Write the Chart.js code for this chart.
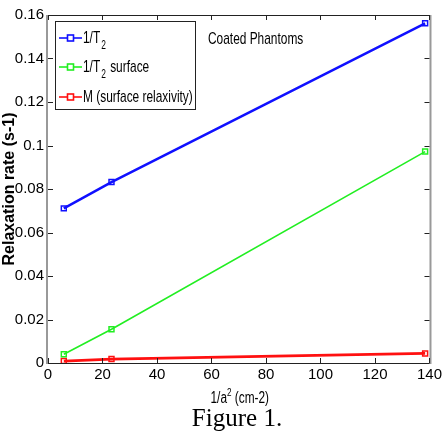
<!DOCTYPE html>
<html><head><meta charset="utf-8">
<script src="https://cdn.jsdelivr.net/npm/chart.js@4/dist/chart.umd.min.js"></script>
<style>html,body{margin:0;padding:0;background:#fff}#wrap{width:445px;height:435px}</style>
</head><body><div id="wrap"><canvas id="c" width="445" height="435"></canvas></div>
<script>
const xValues = [5.8, 23.3, 138.4];
const invT2 = [0.0711, 0.0832, 0.1562];
const invT2Surface = [0.0040, 0.0155, 0.0972];
const surfaceRelaxivity = [0.0009, 0.0018, 0.0044];
const seriesLabels = ['1/T2', '1/T2 surface', 'M (surface relaxivity)'];
const yTicks = [0, 0.02, 0.04, 0.06, 0.08, 0.1, 0.12, 0.14, 0.16];
const xTicks = [0, 20, 40, 60, 80, 100, 120, 140];
const xTitle = '1/a² (cm-2)';
const yTitle = 'Relaxation rate (s-1)';
const note = 'Coated Phantoms';
const caption = 'Figure 1.';

const FONT = "'Liberation Sans', Arial, sans-serif";
const colors = ['#1010ff', '#22ee22', '#ff1010'];
const widths = [2.5, 1.6, 2.8];

function pts(ys){ return xValues.map((x,i)=>({x:x,y:ys[i]})); }

function narrowText(ctx, text, x, y, sx){
  ctx.save(); ctx.translate(x, y); ctx.scale(sx, 1); ctx.fillText(text, 0, 0); ctx.restore();
  return ctx.measureText(text).width * sx;
}

const decor = {
  id:'decor',
  afterDraw(chart){
    const ctx = chart.ctx, a = chart.chartArea;
    const xs = chart.scales.x, ys = chart.scales.y;
    ctx.save();
    // box
    ctx.strokeStyle = '#222'; ctx.lineWidth = 1;
    ctx.beginPath();
    ctx.moveTo(a.left, a.top+0.5); ctx.lineTo(a.right, a.top+0.5);
    ctx.moveTo(a.left, a.bottom+0.5); ctx.lineTo(a.right, a.bottom+0.5);
    ctx.stroke();
    ctx.strokeStyle = '#999'; ctx.lineWidth = 2;
    ctx.beginPath();
    ctx.moveTo(a.left-1, a.top); ctx.lineTo(a.left-1, a.bottom+1);
    ctx.moveTo(a.right+1, a.top); ctx.lineTo(a.right+1, a.bottom+1);
    ctx.stroke();
    // inward ticks
    ctx.strokeStyle = '#222'; ctx.lineWidth = 1;
    ctx.beginPath();
    xTicks.forEach(v=>{ const p = Math.round(xs.getPixelForValue(v))+0.5;
      ctx.moveTo(p, a.bottom); ctx.lineTo(p, a.bottom-5);
      ctx.moveTo(p, a.top); ctx.lineTo(p, a.top+5); });
    yTicks.forEach(v=>{ const p = Math.round(ys.getPixelForValue(v))+0.5;
      ctx.moveTo(a.left, p); ctx.lineTo(a.left+5, p);
      ctx.moveTo(a.right, p); ctx.lineTo(a.right-5, p); });
    ctx.stroke();
    // legend box
    const lx = 55, ly = 21, lw = 140, lh = 88;
    ctx.fillStyle = '#fff'; ctx.fillRect(lx, ly, lw, lh);
    ctx.strokeStyle = '#222'; ctx.lineWidth = 1;
    ctx.strokeRect(lx+0.5, ly+0.5, lw, lh);
    const rowsY = [38, 67, 97];
    const SX = 0.7, FS = '17px ';
    chart.data.datasets.forEach((ds,i)=>{
      const y = rowsY[i];
      ctx.strokeStyle = ds.borderColor; ctx.lineWidth = 1.6;
      ctx.beginPath(); ctx.moveTo(59, y); ctx.lineTo(82, y); ctx.stroke();
      ctx.fillStyle = '#fff';
      ctx.fillRect(67, y-3.5, 7, 7);
      ctx.strokeRect(67.5, y-3, 6, 6);
      ctx.fillStyle = '#000'; ctx.textBaseline = 'middle'; ctx.textAlign = 'left';
      ctx.font = FS + FONT;
      const label = ds.label;
      if (label.startsWith('1/T2')) {
        let x = 83;
        x += narrowText(ctx, '1/T', x, y, SX);
        ctx.font = '12px ' + FONT;
        x += narrowText(ctx, '2', x + 1, y + 8, SX) + 2;
        ctx.font = FS + FONT;
        narrowText(ctx, label.slice(4), x, y, SX);
      } else {
        narrowText(ctx, label, 83, y, SX);
      }
    });
    // annotation
    ctx.fillStyle = '#000'; ctx.font = FS + FONT; ctx.textAlign='left'; ctx.textBaseline='middle';
    narrowText(ctx, note, 208, 39, SX);
    // x title with superscript
    const XS = 0.74;
    const parts = xTitle.split('²');
    ctx.font = '16px ' + FONT;
    const w1 = ctx.measureText(parts[0]).width*XS;
    const w3 = ctx.measureText(parts[1]).width*XS;
    ctx.font = '11px ' + FONT;
    const w2 = ctx.measureText('2').width*XS;
    let tx = (a.left + a.right)/2 - (w1+w2+w3)/2 + 1;
    ctx.font = '16px ' + FONT;
    tx += narrowText(ctx, parts[0], tx, 399, XS);
    ctx.font = '11px ' + FONT;
    tx += narrowText(ctx, '2', tx, 393, XS);
    ctx.font = '16px ' + FONT;
    narrowText(ctx, parts[1], tx, 399, XS);
    // caption
    ctx.font = "25px 'Liberation Serif', 'Times New Roman', serif"; ctx.textAlign='center';
    ctx.fillText(caption, 237, 419);
    ctx.restore();
  }
};

new Chart(document.getElementById('c'), {
  type:'line',
  data:{ datasets:[
    {label:seriesLabels[0], data:pts(invT2)},
    {label:seriesLabels[1], data:pts(invT2Surface)},
    {label:seriesLabels[2], data:pts(surfaceRelaxivity)}
  ].map((d,i)=>Object.assign(d,{borderColor:colors[i], borderWidth:widths[i], pointStyle:'rect',
      pointRadius:3.5, pointBorderWidth:1.5, pointBorderColor:colors[i], pointBackgroundColor:'rgba(255,255,255,0)',
      tension:0, fill:false})) },
  options:{
    responsive:false, animation:false, devicePixelRatio:1,
    layout:{padding:{left:0, top:15, right:10, bottom:27}},
    plugins:{legend:{display:false}, tooltip:{enabled:false}},
    scales:{
      x:{type:'linear', min:0, max:140,
        afterBuildTicks(s){ s.ticks = xTicks.map(v=>({value:v})); },
        afterFit(s){ s.height = 45; },
        grid:{display:false, drawTicks:false}, border:{display:false},
        ticks:{color:'#000', font:{family:FONT, size:15}, padding:3, maxRotation:0},
        title:{display:false}
      },
      y:{type:'linear', min:0, max:0.16,
        afterBuildTicks(s){ s.ticks = yTicks.map(v=>({value:v})); },
        afterFit(s){ s.width = 48; },
        grid:{display:false, drawTicks:false}, border:{display:false},
        ticks:{color:'#000', font:{family:FONT, size:15}, padding:4, callback:v=>String(v)},
        title:{display:true, text:yTitle, color:'#000', font:{family:FONT, size:16, weight:'bold'}, padding:{top:0,bottom:1}}
      }
    }
  },
  plugins:[decor]
});
</script></body></html>
